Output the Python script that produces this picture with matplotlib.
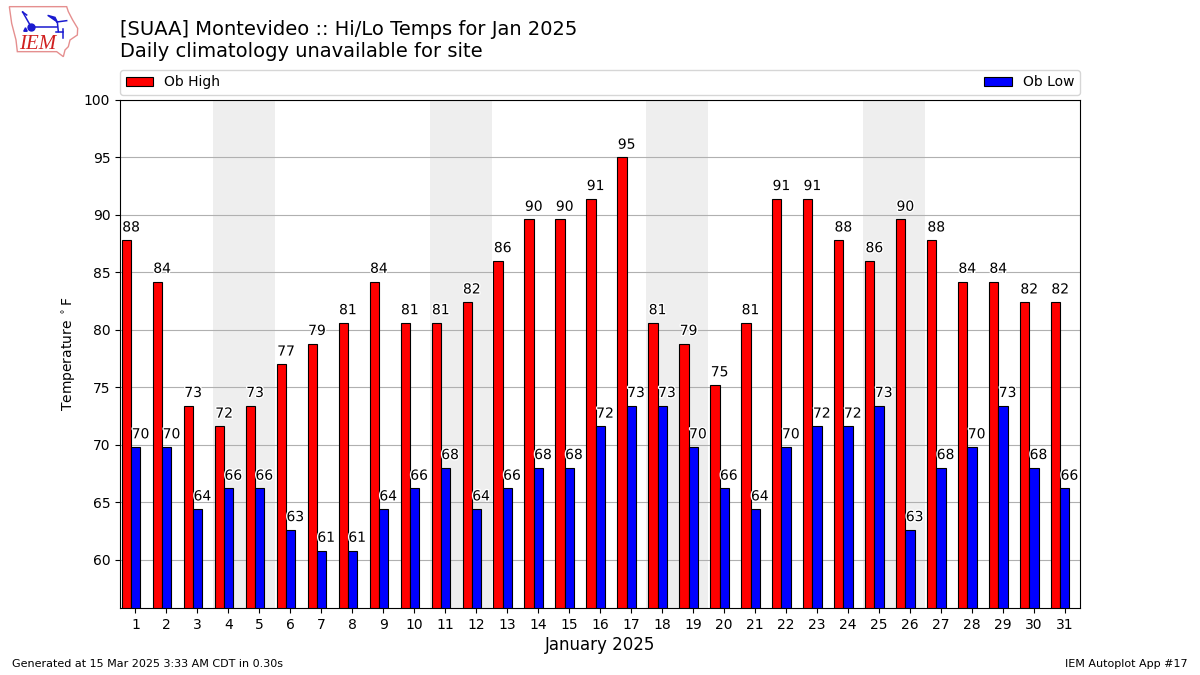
import numpy as np
import matplotlib
matplotlib.use("Agg")
import matplotlib.pyplot as plt
import matplotlib.patheffects as PathEffects
from matplotlib.patches import Polygon

days = np.arange(1, 32)
highs = [87.8, 84.2, 73.4, 71.6, 73.4, 77, 78.8, 80.6, 84.2, 80.6, 80.6, 82.4,
         86, 89.6, 89.6, 91.4, 95, 80.6, 78.8, 75.2, 80.6, 91.4, 91.4, 87.8,
         86, 89.6, 87.8, 84.2, 84.2, 82.4, 82.4]
lows = [69.8, 69.8, 64.4, 66.2, 66.2, 62.6, 60.8, 60.8, 64.4, 66.2, 68, 64.4,
        66.2, 68, 68, 71.6, 73.4, 73.4, 69.8, 66.2, 64.4, 69.8, 71.6, 71.6,
        73.4, 62.6, 68, 69.8, 73.4, 68, 66.2]
weekends = [4, 11, 18, 25]

fig = plt.figure(figsize=(12, 6.75), dpi=100)
ax = fig.add_axes([0.1, 0.0993, 0.8, 0.7526])

for day in weekends:
    ax.axvspan(day - 0.5, day + 1.5, color="#eeeeee", lw=0, zorder=0)

ax.bar(days - 0.44, highs, width=0.3, align="edge", color="r", edgecolor="k",
       linewidth=0.8, label="Ob High", zorder=2)
ax.bar(days - 0.14, lows, width=0.3, align="edge", color="b", edgecolor="k",
       linewidth=0.8, label="Ob Low", zorder=2)

halo = [PathEffects.withStroke(linewidth=2, foreground="white")]
for day, hi, lo in zip(days, highs, lows):
    ax.text(day - 0.14, hi + 0.5, f"{hi:.0f}", ha="center", va="bottom",
            path_effects=halo, zorder=3)
    ax.text(day + 0.16, lo + 0.5, f"{lo:.0f}", ha="center", va="bottom",
            path_effects=halo, zorder=3)

ax.set_xlim(0.5, 31.5)
ax.set_ylim(min(lows) - 5, 100)
ax.set_xticks(days)
ax.set_yticks(np.arange(60, 101, 5))
ax.grid(axis="y", color="#b0b0b0", zorder=1)
ax.set_axisbelow(True)
ax.set_ylabel(r"Temperature $^\circ$F")
ax.set_xlabel("January 2025", fontsize=12, labelpad=3)
ax.legend(loc="lower left", bbox_to_anchor=(0, 1.01, 1, 0.05), mode="expand",
          ncol=2, borderaxespad=0, fontsize=10)

fig.text(0.1, 0.9407, "[SUAA] Montevideo :: Hi/Lo Temps for Jan 2025\nDaily climatology unavailable for site",
         fontsize=14, va="center", ha="left", linespacing=1.2)
fig.text(0.01, 0.012, "Generated at 15 Mar 2025 3:33 AM CDT in 0.30s", fontsize=8)
fig.text(0.99, 0.012, "IEM Autoplot App #17", fontsize=8, ha="right")

# IEM logo, drawn in pixel coordinates of the figure
logo = fig.add_axes([0, 0, 1, 1], facecolor="none")
logo.set_xlim(0, 1200)
logo.set_ylim(675, 0)
logo.axis("off")
outline = np.array([(28, 20), (200, 20), (205, 35), (218, 60), (233, 85), (232, 105),
                    (210, 120), (205, 140), (195, 150), (190, 170), (170, 155),
                    (52, 155), (48, 120), (35, 70)]) / 3
logo.add_patch(Polygon(outline, closed=True, fill=False, edgecolor="#e58f8f", lw=1.0))
wing = np.array([(143, 46), (165, 52), (172, 66)]) / 3
logo.add_patch(Polygon(wing, closed=True, color="#1a1ad0"))
for seg in [[(93, 80), (170, 80)], [(93, 80), (68, 36)], [(68, 36), (80, 45)],
            [(170, 66), (200, 62)], [(172, 66), (175, 95)], [(168, 95), (190, 95)],
            [(190, 88), (190, 115)]]:
    pts = np.array(seg) / 3
    logo.plot(pts[:, 0], pts[:, 1], color="#1a1ad0", lw=1.1)
logo.plot([31], [26.5], "o", color="#1a1ad0", ms=5)
logo.plot([24.5], [28.5], "^", color="#1a1ad0", ms=2.5)
logo.text(37.5, 44.5, "IEM", color="#d02020", fontsize=15, family="Liberation Serif",
          style="italic", ha="center", va="center")

fig.savefig("out.png", dpi=100)
